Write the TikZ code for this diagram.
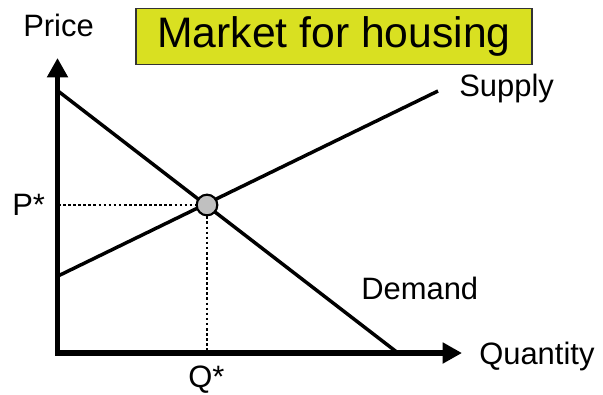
\documentclass[tikz,border=0pt]{standalone}
\usepackage{fontspec}
\setmainfont{Liberation Sans}
\usetikzlibrary{arrows.meta}
\definecolor{titlefill}{RGB}{217,224,33}
\definecolor{dotfill}{RGB}{192,192,192}
\begin{document}
\begin{tikzpicture}[x=0.75pt,y=-0.75pt,
  axisline/.style={line width=4pt,{Triangle[length=14.5pt,width=15pt]}-{Triangle[length=14.5pt,width=15pt]}},
  curve/.style={line width=2.6pt},
  guide/.style={line width=2.2pt,dash pattern=on 2pt off 1.8pt},
  lbl/.style={font=\fontsize{23.2pt}{27pt}\selectfont,inner sep=0pt,anchor=base west},
  titlebox/.style={draw=black!80,line width=0.9pt,fill=titlefill,minimum width=297pt,minimum height=42.5pt,inner sep=0pt,font=\fontsize{32pt}{36pt}\selectfont}]
\useasboundingbox (0,0) rectangle (603,394);
\coordinate (O) at (57.5,353);
\coordinate (ytip) at (57.5,58);
\coordinate (xtip) at (462,353);
\coordinate (d1) at (58,91);
\coordinate (d2) at (398,353);
\coordinate (s1) at (58,276);
\coordinate (s2) at (438,91);
\coordinate (pax) at (58,205);
\coordinate (qax) at (207,353);
\draw[axisline] (ytip) -- (O) -- (xtip);
\draw[curve] (d1) -- (d2);
\draw[curve] (s1) -- (s2);
\node[circle,draw=black,line width=1.6pt,fill=dotfill,minimum size=15.5pt,inner sep=0pt] (eq) at (207,205) {};
\draw[guide] (pax) -- (eq.west);
\draw[guide] (eq.south) -- (qax);
\node[titlebox] (title) at (334,36.5) {Market for housing};
\node[lbl] (price) at (23,36) {Price};
\node[lbl] (pstar) at (12,215) {P*};
\node[lbl] (qstar) at (188,387.5) {Q*};
\node[lbl] (qty) at (479,364) {Quantity};
\node[lbl] (dem) at (361,299) {Demand};
\node[lbl] (sup) at (459,96) {Supply};
\end{tikzpicture}
\end{document}
